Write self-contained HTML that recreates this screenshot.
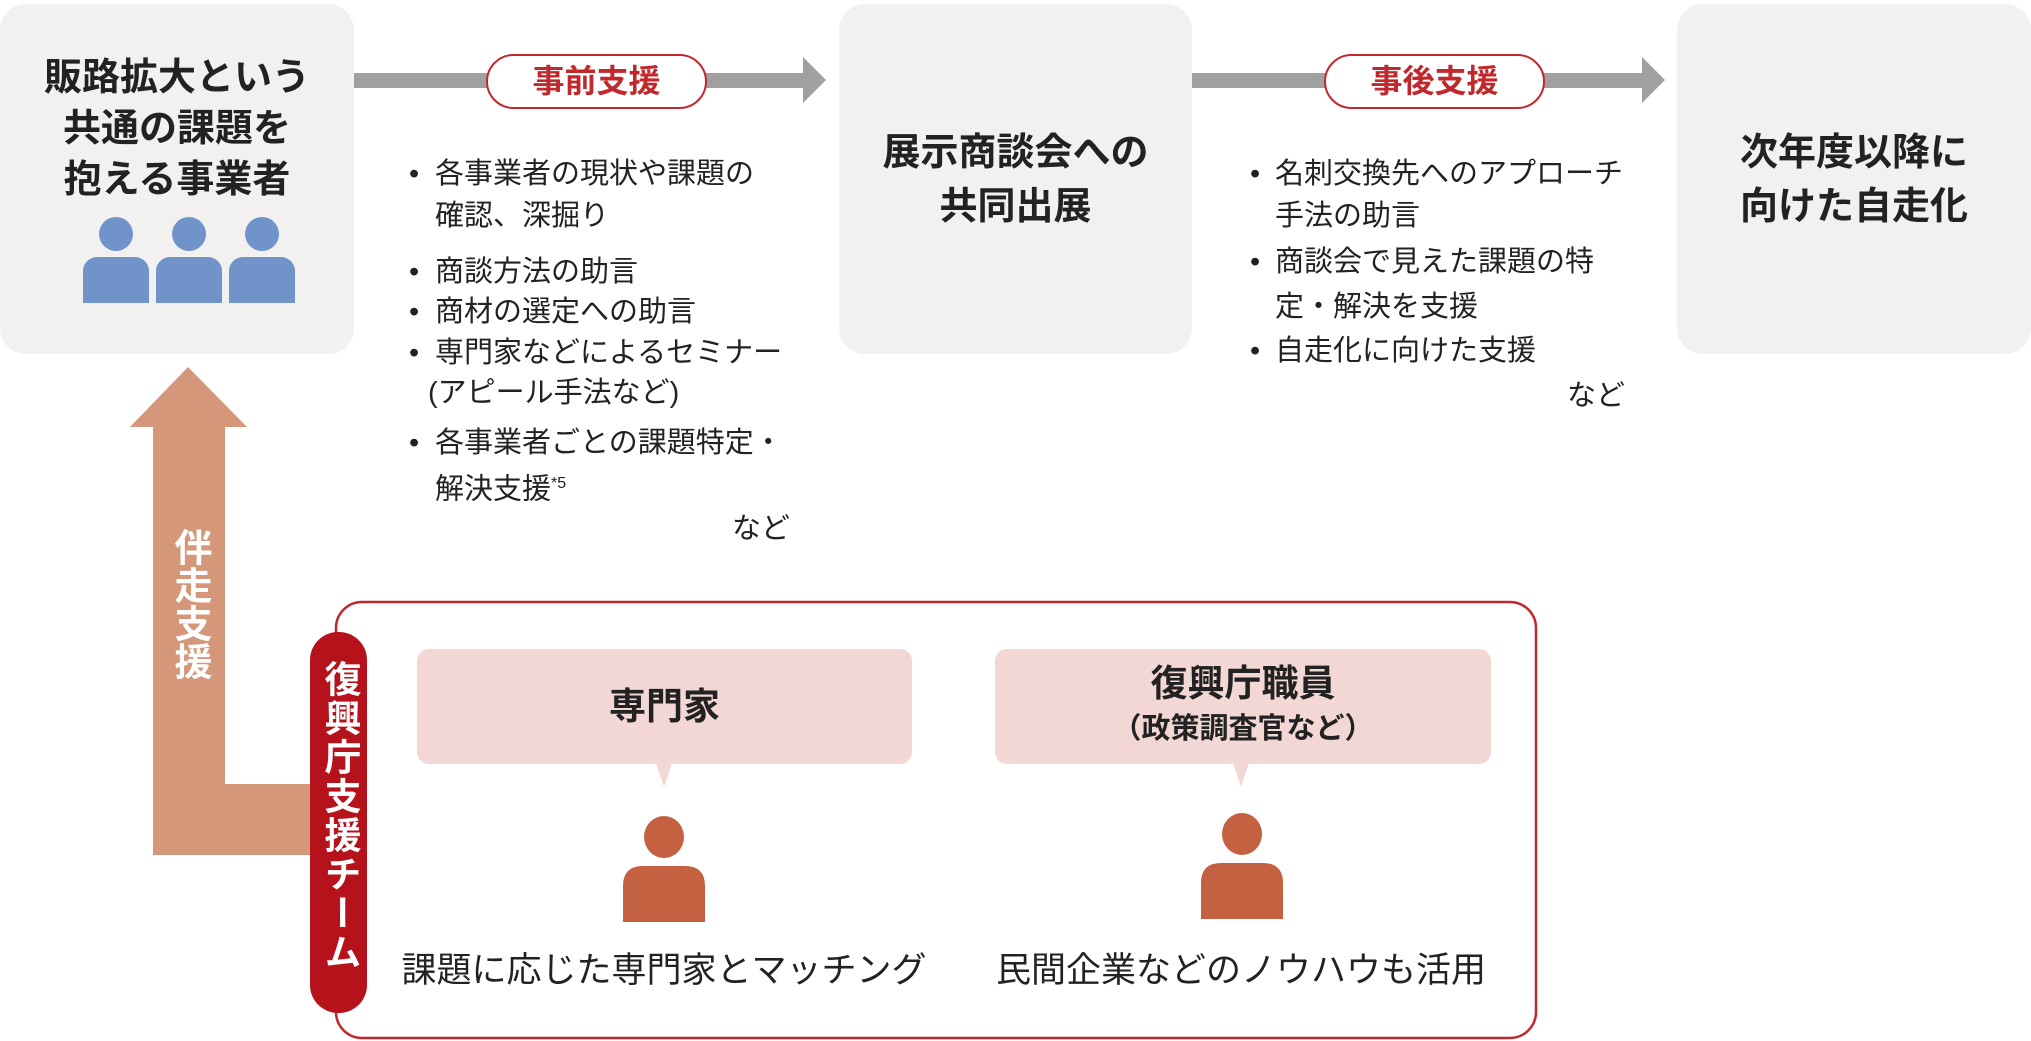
<!DOCTYPE html>
<html><head><meta charset="utf-8"><style>
*{margin:0;padding:0;box-sizing:border-box}
body{width:2031px;height:1041px;background:#fff;position:relative;overflow:hidden;font-family:"Liberation Sans","Noto Sans CJK JP",sans-serif;color:#222}
.a{position:absolute}
.box{background:#f2f1f0;border-radius:26px}
.tt{font-weight:bold;font-size:38px;text-align:center;line-height:51px;color:#222}
.pill{border:2.5px solid #c0282d;border-radius:30px;background:#fff;color:#c0282d;font-weight:bold;font-size:32px;text-align:center;line-height:50px}
.li{position:absolute;font-size:29px;line-height:40px;white-space:nowrap}
.b{position:absolute;font-size:29px;line-height:40px}
.vt{writing-mode:vertical-rl;text-orientation:upright;color:#fff;font-weight:bold}
.sp{background:#f2d7d4;border-radius:12px;text-align:center;font-weight:bold}
</style></head><body>
<div class="a box" style="left:0;top:4px;width:354px;height:350px"></div>
<div class="a box" style="left:839px;top:4px;width:353px;height:350px"></div>
<div class="a box" style="left:1677px;top:4px;width:354px;height:350px"></div>
<div class="a tt" style="left:0;top:53px;width:354px">販路拡大という<br>共通の課題を<br>抱える事業者</div>
<div class="a tt" style="left:839px;top:126px;width:353px;line-height:54px">展示商談会への<br>共同出展</div>
<div class="a tt" style="left:1677px;top:126px;width:354px;line-height:54px">次年度以降に<br>向けた自走化</div>
<svg class="a" style="left:0;top:0" width="2031" height="1041">
<g fill="#7094c9">
<ellipse cx="116" cy="234" rx="17" ry="17"/><rect x="83" y="257" width="66" height="46" rx="14"/><rect x="83" y="275" width="66" height="28"/>
<ellipse cx="189" cy="234" rx="17" ry="17"/><rect x="156" y="257" width="66" height="46" rx="14"/><rect x="156" y="275" width="66" height="28"/>
<ellipse cx="262" cy="234" rx="17" ry="17"/><rect x="229" y="257" width="66" height="46" rx="14"/><rect x="229" y="275" width="66" height="28"/>
</g>
<g fill="#a0a0a0">
<rect x="354" y="73" width="452" height="15"/><polygon points="803,57 826,80 803,103"/>
<rect x="1192" y="73" width="452" height="15"/><polygon points="1642,57 1665,80 1642,103"/>
</g>
<g fill="#d4977a">
<polygon points="188,367 247,427 225,427 225,784 311,784 311,855 153,855 153,427 130,427"/>
</g>
<rect x="336" y="602" width="1200" height="436" rx="26" fill="none" stroke="#c0282d" stroke-width="2.5"/>
<rect x="310" y="632" width="57" height="381" rx="28" fill="#b5121b"/>
<polygon points="656,763 672,763 664,787" fill="#f2d7d4"/>
<polygon points="1233,763 1249,763 1241,787" fill="#f2d7d4"/>
<g fill="#c46140">
<ellipse cx="664" cy="837" rx="20" ry="21"/><path d="M623,922 V886 Q623,866 643,866 H685 Q705,866 705,886 V922Z"/>
<ellipse cx="1242" cy="834" rx="20" ry="21"/><path d="M1201,919 V883 Q1201,863 1221,863 H1263 Q1283,863 1283,883 V919Z"/>
</g>
</svg>
<div class="a pill" style="left:486px;top:54px;width:221px;height:55px">事前支援</div>
<div class="a pill" style="left:1324px;top:54px;width:221px;height:55px">事後支援</div>

<div class="b" style="left:409px;top:154px">•</div><div class="li" style="left:435px;top:154px">各事業者の現状や課題の</div>
<div class="li" style="left:435px;top:196px">確認、深掘り</div>
<div class="b" style="left:409px;top:252px">•</div><div class="li" style="left:435px;top:252px">商談方法の助言</div>
<div class="b" style="left:409px;top:292px">•</div><div class="li" style="left:435px;top:292px">商材の選定への助言</div>
<div class="b" style="left:409px;top:333px">•</div><div class="li" style="left:435px;top:333px">専門家などによるセミナー</div>
<div class="li" style="left:428px;top:373px">(アピール手法など)</div>
<div class="b" style="left:409px;top:423px">•</div><div class="li" style="left:435px;top:423px">各事業者ごとの課題特定・</div>
<div class="li" style="left:435px;top:464px">解決支援<sup style="font-size:16px">*5</sup></div>
<div class="li" style="left:732px;top:509px">など</div>

<div class="b" style="left:1250px;top:154px">•</div><div class="li" style="left:1275px;top:154px">名刺交換先へのアプローチ</div>
<div class="li" style="left:1275px;top:196px">手法の助言</div>
<div class="b" style="left:1250px;top:242px">•</div><div class="li" style="left:1275px;top:242px">商談会で見えた課題の特</div>
<div class="li" style="left:1275px;top:287px">定・解決を支援</div>
<div class="b" style="left:1250px;top:331px">•</div><div class="li" style="left:1275px;top:331px">自走化に向けた支援</div>
<div class="li" style="left:1567px;top:376px">など</div>

<div class="a vt" style="left:169px;top:528px;font-size:38px;line-height:40px">伴走支援</div>
<div class="a vt" style="left:319px;top:660px;font-size:37px;line-height:40px;letter-spacing:2px">復興庁支援チーム</div>
<div class="a sp" style="left:417px;top:649px;width:495px;height:115px;font-size:37px;line-height:115px">専門家</div>
<div class="a sp" style="left:995px;top:649px;width:496px;height:115px;padding-top:10px">
<div style="font-size:37px;line-height:50px">復興庁職員</div>
<div style="font-size:29px;line-height:40px">（政策調査官など）</div></div>
<div class="a" style="left:364px;top:950px;width:600px;text-align:center;font-size:35px;line-height:42px">課題に応じた専門家とマッチング</div>
<div class="a" style="left:941px;top:950px;width:600px;text-align:center;font-size:35px;line-height:42px">民間企業などのノウハウも活用</div>
</body></html>
